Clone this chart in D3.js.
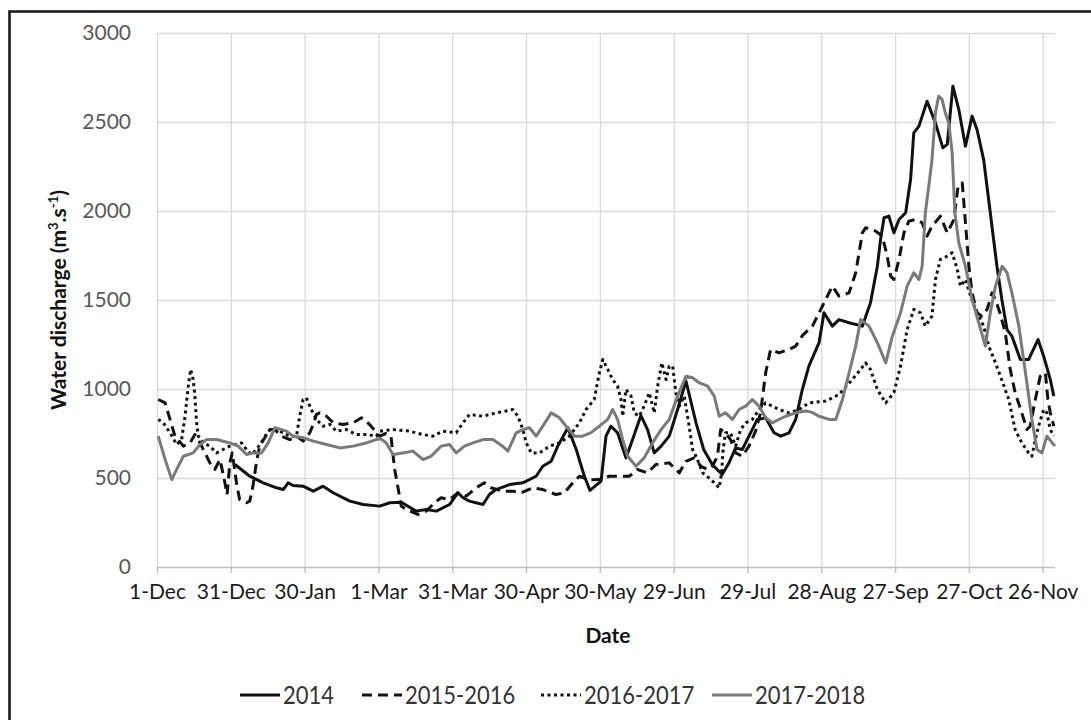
<!DOCTYPE html>
<html><head><meta charset="utf-8">
<script src="https://cdn.jsdelivr.net/npm/d3@7"></script>
<style>
html,body{margin:0;padding:0;background:#fff;}
svg{display:block;}
</style></head>
<body>
<svg id="chart" width="1091" height="720"></svg>
<script>
// ---- data (day index counted from 1-Dec, discharge m3/s) ----
const seriesNames = ["2014", "2015-2016", "2016-2017", "2017-2018"];
const tickDays = [0, 30, 60, 90, 120, 150, 180, 210, 240, 270, 300, 330, 360];
const tickLabels = ["1-Dec","31-Dec","30-Jan","1-Mar","31-Mar","30-Apr","30-May","29-Jun","29-Jul","28-Aug","27-Sep","27-Oct","26-Nov"];
const yTicks = [0, 500, 1000, 1500, 2000, 2500, 3000];

const s2014 = [[31.7,576],[37.7,510],[43.2,473],[48.6,445],[51.3,435],[53.3,473],[55.3,458],[59.4,454],[63.5,426],[67.5,454],[71.6,417],[78.4,370],[83.8,351],[90.5,342],[94.6,361],[99.3,364],[105.3,314],[109.4,323],[113.5,314],[118.9,351],[122.3,417],[124.4,389],[127,370],[132.5,351],[135.1,407],[137.8,435],[143.3,463],[148.7,473],[154.1,510],[156.8,566],[160.2,594],[162.9,679],[167,782],[170.4,660],[173.7,510],[176,430],[180.5,482],[182.5,735],[184.5,791],[187.2,754],[190.6,613],[193.3,716],[196.7,851],[199.4,772],[202.1,641],[204.9,679],[208.2,735],[211.6,885],[215,1045],[219.1,810],[222.2,660],[225.7,576],[229.7,520],[232.5,585],[235.2,669],[237.9,660],[240.6,735],[244,829],[247.4,838],[250.8,754],[253.5,735],[256.9,754],[259.6,829],[262.3,997],[265,1130],[269.1,1260],[271.1,1428],[274.5,1353],[277.2,1390],[281.3,1372],[286.7,1353],[290,1484],[292.8,1690],[294.1,1840],[295.5,1962],[297.5,1971],[299.5,1877],[301.6,1952],[304.3,1990],[306.3,2177],[307.6,2439],[309.7,2477],[313,2617],[316.4,2495],[319.4,2355],[321.2,2374],[323.5,2701],[325.9,2570],[328.6,2364],[331.3,2533],[333.3,2458],[336,2289],[338.7,1990],[341.4,1690],[343.4,1503],[345.5,1334],[347.5,1297],[350.9,1166],[354.3,1166],[358.1,1278],[360.4,1184],[363.1,1053],[364.5,960]];

const s2015 = [[0.5,941],[3.3,922],[5.3,829],[7.3,735],[8.6,716],[10.7,679],[13.4,697],[15.4,744],[17.5,697],[19.5,641],[21.5,585],[23.5,548],[25.6,604],[27.6,473],[28.5,407],[29.6,585],[30.6,641],[32.5,454],[33.6,379],[36.4,361],[37.7,370],[39,454],[40.4,585],[41.7,679],[43.8,726],[45.1,772],[47.9,772],[50.6,735],[54,716],[56.7,735],[59.4,707],[62.1,754],[63.5,801],[64.8,857],[66.2,866],[68.9,847],[71.6,810],[75.6,801],[79.7,810],[83.1,838],[86.4,801],[90.5,735],[93,750],[95.1,735],[96.6,548],[99.3,342],[101.3,323],[106,295],[109.4,314],[112.8,361],[115.5,389],[118.9,379],[122.3,417],[125.7,398],[129.7,445],[133.1,473],[135.8,445],[140.5,426],[144.6,426],[148,417],[152.7,445],[156.8,435],[162.2,407],[165.6,417],[169,473],[171.7,510],[175.7,490],[179.8,491],[183.8,510],[192,510],[195.3,548],[199.4,529],[202.8,576],[208.2,585],[212.3,529],[215,594],[218.3,613],[221.1,566],[223.8,548],[225.7,566],[227.8,622],[229.1,772],[231.1,754],[233.1,716],[235.2,641],[237.9,622],[240.6,679],[243.3,763],[245.3,866],[247.4,1091],[249.4,1222],[252.8,1203],[256.9,1222],[259.6,1241],[262.3,1300],[266.4,1353],[271.8,1503],[274.5,1578],[277.2,1522],[281.3,1540],[284,1653],[286.7,1877],[288,1906],[292.1,1887],[294.8,1859],[296.8,1746],[298.2,1634],[299.5,1615],[301.6,1728],[303.6,1877],[305.6,1943],[308.3,1952],[311,1934],[313,1859],[315,1915],[318.4,1971],[321.2,1877],[323.9,1952],[325.6,2139],[327.3,2158],[328.6,1934],[330,1690],[331.3,1540],[333.3,1428],[335.3,1409],[337.4,1447],[339.4,1540],[340.8,1503],[342.6,1428],[344.8,1316],[346.8,1110],[348.8,979],[351.5,866],[353.6,772],[354.9,791],[357,941],[359,1072],[361.1,1091],[362.1,941],[363.1,866],[364.5,791]];

const s2016 = [[0.5,829],[2.6,810],[5.3,754],[8,688],[10,716],[11.4,847],[12.7,1016],[13.7,1110],[14.7,1053],[15.4,960],[16.1,810],[16.8,735],[18.8,697],[21.5,679],[24.2,641],[26.9,660],[29.6,679],[31.7,688],[34.4,697],[36.4,660],[38.4,632],[40.4,660],[43.2,716],[45.9,772],[48.6,772],[51.3,754],[54,735],[56.7,735],[58,847],[59.4,941],[60.7,951],[62.7,885],[64.8,829],[67.5,791],[70.2,801],[72.9,763],[77,772],[81,744],[85.1,744],[89.1,735],[90.5,763],[95.9,772],[102.7,763],[108.1,744],[112.1,735],[116.2,763],[121.6,754],[124.4,810],[127,857],[132.5,847],[137.8,866],[141.9,876],[144.6,885],[146.7,847],[148.7,772],[150.1,697],[152.1,641],[155.5,641],[159.5,679],[163.6,697],[167.6,735],[171.7,810],[174.4,885],[177.7,941],[179.8,1091],[181.2,1166],[183.2,1110],[185.2,1053],[187.2,1016],[188.6,941],[189.3,847],[190.6,997],[192.7,960],[194,866],[196,847],[198,904],[200.1,979],[202.1,866],[203.5,1016],[205.2,1147],[206.9,1053],[208.2,1128],[209.6,1128],[210.9,979],[212.3,904],[214.3,960],[216.3,791],[217.7,660],[219.1,622],[221.8,529],[225.2,491],[228.5,445],[229.5,529],[230.1,660],[231.1,754],[233.1,754],[235.2,679],[237.2,772],[239.3,810],[242,829],[244.7,885],[247.4,922],[250.1,904],[252.8,885],[256.9,866],[261,885],[265,922],[271.8,932],[277.2,969],[282.6,1053],[286,1110],[288,1147],[290,1110],[292.8,997],[296.2,922],[299.5,979],[302.2,1128],[304.9,1334],[307.6,1447],[310.3,1428],[312.3,1353],[315,1409],[316.4,1615],[318.4,1728],[321.2,1746],[323.2,1765],[325.3,1672],[326.6,1578],[328.6,1615],[330.7,1522],[332.7,1447],[336,1353],[338.1,1241],[340.8,1147],[343.3,1053],[346.2,941],[348.8,772],[351.5,697],[354.3,641],[355.6,622],[357,716],[358.3,791],[360.4,885],[361.7,866],[363.1,772],[364.5,735]];

const s2017 = [[0.5,735],[3.3,604],[6,491],[8,548],[10.7,622],[14.7,641],[17.5,688],[20.2,716],[24.2,716],[29.6,697],[33,679],[36.4,632],[39,641],[42.5,641],[45.2,697],[47.9,782],[50.6,772],[52.6,763],[55.3,735],[59.4,726],[63.5,707],[68.9,688],[74.3,669],[79.7,679],[85.1,697],[89.1,716],[91,720],[93.2,697],[95.9,632],[99.9,641],[104,651],[108.1,604],[111.4,622],[115.5,679],[118.9,688],[121.6,641],[125,679],[128.4,697],[132.5,716],[136.5,716],[140.5,679],[142.6,651],[146,754],[148.7,772],[151.4,782],[154.1,735],[156.8,791],[160.2,866],[163.6,838],[166.3,791],[169.6,735],[173,735],[176.4,755],[179.8,791],[183.2,829],[185.2,885],[187.2,829],[189.3,716],[191.3,622],[194.7,566],[198,613],[201.4,697],[204.9,772],[208.2,829],[211.6,960],[215,1072],[217.7,1063],[220.5,1034],[223.8,1016],[226.5,960],[228.5,847],[231.1,866],[233.9,829],[236.6,885],[239.3,904],[242,941],[244.7,904],[247.4,838],[250.1,810],[252.8,829],[255.5,847],[259.6,866],[263.7,876],[266,870],[269.1,847],[273.2,829],[275.9,829],[278.6,941],[281.3,1091],[284,1241],[286,1390],[289.4,1353],[292.8,1260],[296.2,1147],[298.9,1297],[302.2,1428],[304.9,1578],[307.6,1653],[309.7,1615],[311,1690],[312.3,1990],[313.7,2139],[315,2289],[316.4,2552],[317.7,2645],[319.1,2627],[320.4,2552],[321.8,2495],[323.2,2327],[324.3,1990],[325.9,1821],[328.6,1690],[331.3,1503],[334,1372],[336.7,1241],[338.7,1428],[340.8,1578],[343.5,1690],[345.5,1653],[347.5,1540],[350.3,1353],[353,1091],[355.6,829],[357.7,660],[359.7,641],[361.7,735],[363.9,697],[365,679]];

const seriesData = [s2014, s2015, s2016, s2017];

// ---- styles ----
const styles = [
  {color:"#111", width:3, dash:null},
  {color:"#111", width:3, dash:"10,6"},
  {color:"#111", width:3, dash:"3,3.5"},
  {color:"#7a7a7a", width:3, dash:null}
];

const svg = d3.select("#chart");
const W = 1091, H = 720;
const m = {left:157, right:1055, top:33, bottom:567};

svg.append("rect").attr("width",W).attr("height",H).attr("fill","#fff");
// outer frame
svg.append("rect").attr("x",9.5).attr("y",11.5).attr("width",1100).attr("height",720)
  .attr("fill","none").attr("stroke","#1a1a1a").attr("stroke-width",2.6);

const x = d3.scaleLinear().domain([0,365]).range([m.left, m.right]);
const y = d3.scaleLinear().domain([0,3000]).range([m.bottom, m.top]);

// gridlines
svg.append("g").attr("class","hgrid")
  .attr("transform",`translate(${m.left},0)`)
  .call(d3.axisLeft(y).tickValues(yTicks.slice(1)).tickSize(-(m.right-m.left)).tickFormat(""))
  .call(g=>g.select(".domain").remove())
  .call(g=>g.selectAll("line").attr("stroke","#dadada").attr("stroke-width",1.3));

svg.append("g").attr("class","vgrid")
  .attr("transform",`translate(0,${m.bottom})`)
  .call(d3.axisBottom(x).tickValues(tickDays).tickSize(-(m.bottom-m.top)).tickFormat(""))
  .call(g=>g.select(".domain").remove())
  .call(g=>g.selectAll("line").attr("stroke","#dadada").attr("stroke-width",1.3));

// x axis
const xa = svg.append("g").attr("transform",`translate(0,${m.bottom})`)
  .call(d3.axisBottom(x).tickValues(tickDays).tickSize(6).tickSizeOuter(0)
    .tickFormat((d,i)=>tickLabels[i]));
xa.select(".domain").attr("stroke","#bfbfbf").attr("stroke-width",1.4)
  .attr("d",`M${m.left},0.5H${m.right}`);
xa.selectAll(".tick line").attr("stroke","#bfbfbf").attr("stroke-width",1.4);
xa.selectAll(".tick text").attr("fill","#1a1a1a").attr("font-family","Lato")
  .attr("font-size",21).attr("y",17).attr("dy","0.71em");

// y axis labels
const ya = svg.append("g").attr("transform",`translate(${m.left},0)`)
  .call(d3.axisLeft(y).tickValues(yTicks).tickSize(0).tickPadding(26).tickFormat(d3.format("d")));
ya.select(".domain").remove();
ya.selectAll(".tick text").attr("fill","#595959").attr("font-family","Lato")
  .attr("font-size",21);

// lines
const line = d3.line().x(d=>x(d[0])).y(d=>y(d[1]));
seriesData.forEach((s,i)=>{
  svg.append("path").datum(s).attr("d",line).attr("fill","none")
    .attr("stroke",styles[i].color).attr("stroke-width",styles[i].width)
    .attr("stroke-linejoin","round")
    .attr("stroke-dasharray",styles[i].dash);
});

// axis titles
svg.append("text").attr("x",608).attr("y",643)
  .attr("text-anchor","middle").attr("font-family","Lato").attr("font-weight","bold")
  .attr("font-size",21).attr("fill","#111").text("Date");

const yt = svg.append("text").attr("transform",`translate(66,${(m.top+m.bottom)/2}) rotate(-90)`)
  .attr("text-anchor","middle").attr("font-family","Lato").attr("font-weight","bold")
  .attr("font-size",21).attr("fill","#111");
yt.append("tspan").text("Water discharge (m");
yt.append("tspan").attr("font-size",13).attr("baseline-shift","super").text("3");
yt.append("tspan").text(".s");
yt.append("tspan").attr("font-size",13).attr("baseline-shift","super").text("-1");
yt.append("tspan").text(")");

// legend
const legX = [240, 362, 541, 712];
const lg = svg.append("g");
seriesNames.forEach((n,i)=>{
  const g = lg.append("g").attr("transform",`translate(${legX[i]},695)`);
  g.append("line").attr("x1",0).attr("x2",40).attr("y1",0).attr("y2",0)
    .attr("stroke",styles[i].color).attr("stroke-width",styles[i].width)
    .attr("stroke-dasharray",styles[i].dash);
  g.append("text").attr("transform","translate(43,9) scale(1,1.15)")
    .attr("font-family","Lato").attr("font-size",22).attr("fill","#333").text(n);
});
</script>
</body></html>
